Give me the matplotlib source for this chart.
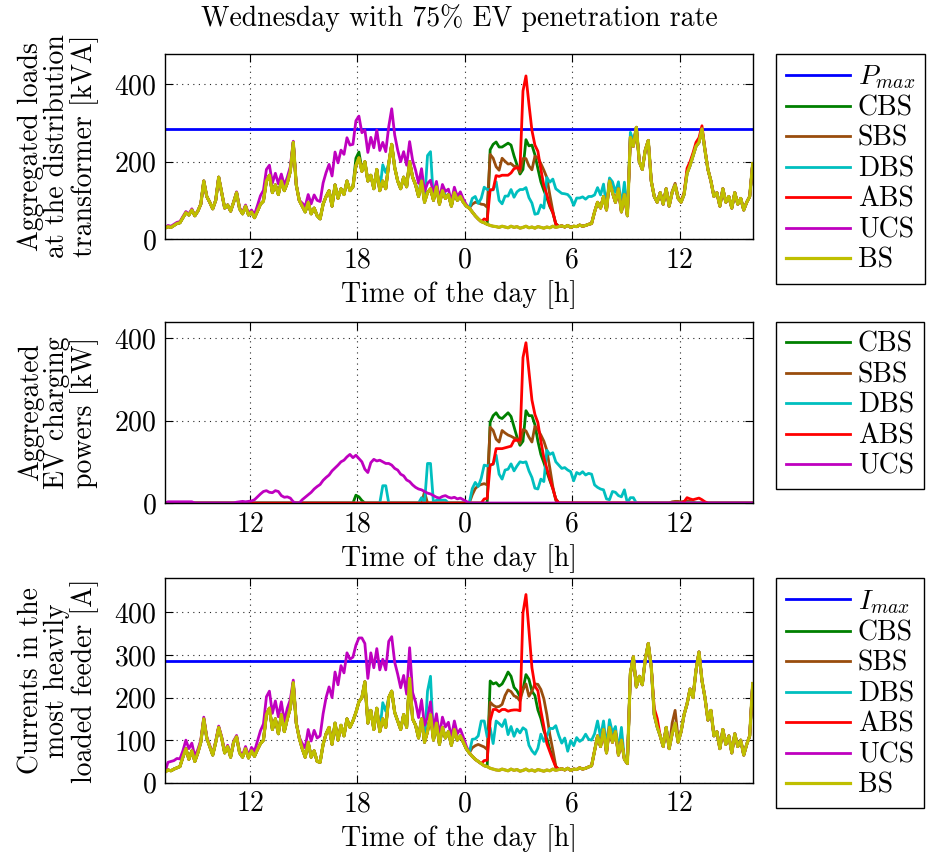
import numpy as np
import matplotlib
matplotlib.use("Agg")
import matplotlib.pyplot as plt

plt.rcParams['font.family'] = 'serif'
plt.rcParams['font.serif'] = ['cmr10']
plt.rcParams['mathtext.fontset'] = 'cm'
plt.rcParams['axes.unicode_minus'] = False
plt.rcParams['axes.formatter.use_mathtext'] = True

# time grid: 10 min steps starting 7:15 on day 1
t0 = 7.25
step = 1 / 6

# base load at the transformer [kVA], one row per hour
bs_load = [
    28, 32, 30, 35, 40, 42,
    55, 68, 62, 75, 60, 72,
    90, 150, 110, 95, 78, 100,
    160, 120, 80, 88, 72, 95,
    120, 78, 65, 85, 62, 70,
    55, 72, 90, 98, 150, 165,
    120, 140, 115, 150, 125, 145,
    175, 250, 140, 100, 85, 70,
    95, 65, 80, 60, 52, 90,
    110, 125, 85, 140, 105, 130,
    115, 150, 125, 135, 190, 210,
    175, 200, 150, 165, 130, 180,
    125, 150, 130, 195, 245, 185,
    150, 130, 160, 135, 200, 160,
    140, 110, 150, 95, 120, 130,
    100, 135, 90, 125, 105, 115,
    85, 120, 100, 110, 95, 85,
    80, 70, 60, 52, 45, 42,
    38, 35, 33, 32, 30, 33,
    31, 29, 33, 30, 32, 28,
    30, 33, 29, 31, 28, 32,
    30, 28, 31, 29, 33, 30,
    32, 34, 31, 35, 30, 33,
    32, 36, 33, 35, 38, 40,
    70, 95, 80, 110, 75, 150,
    120, 95, 130, 70, 115, 60,
    263, 240, 289, 200, 180, 230,
    255, 150, 110, 95, 120, 90,
    130, 85, 120, 140, 105, 95,
    115, 170, 190, 215, 240, 250,
    285, 230, 180, 150, 110, 120,
    85, 130, 95, 110, 80, 120,
    90, 105, 75, 95, 110, 195,
]

# base current in the most heavily loaded feeder [A]
bs_cur = [
    25, 30, 28, 32, 35, 38,
    60, 80, 55, 75, 50, 70,
    95, 150, 105, 85, 65, 95,
    130, 105, 70, 85, 60, 95,
    108, 70, 60, 80, 58, 75,
    62, 78, 92, 100, 160, 175,
    125, 150, 115, 160, 120, 150,
    175, 235, 140, 105, 80, 60,
    95, 60, 75, 50, 48, 90,
    115, 130, 90, 140, 100, 135,
    110, 150, 130, 145, 165, 190,
    200, 237, 140, 170, 125, 175,
    120, 150, 130, 200, 215, 165,
    145, 125, 160, 130, 245, 150,
    135, 105, 150, 95, 120, 160,
    100, 140, 90, 130, 105, 120,
    88, 125, 100, 110, 95, 80,
    70, 62, 55, 50, 45, 40,
    38, 34, 32, 30, 29, 32,
    30, 28, 32, 29, 31, 27,
    29, 32, 28, 30, 27, 31,
    29, 27, 30, 28, 32, 29,
    31, 33, 30, 34, 29, 32,
    31, 35, 32, 34, 37, 40,
    75, 110, 85, 125, 70, 130,
    95, 120, 65, 100, 55, 45,
    257, 296, 225, 250, 230, 290,
    327, 272, 160, 131, 110, 85,
    130, 80, 115, 140, 95, 120,
    160, 185, 220, 200, 264, 307,
    240, 200, 147, 170, 110, 120,
    80, 125, 90, 110, 70, 115,
    85, 100, 65, 90, 110, 233,
]

p_max = 284
i_max = 285

# aggregated EV charging powers [kW], as (start hour, values)
ucs_ev = [
    (7.42, [3, 3, 3, 3, 3, 3, 3, 3, 3]),
    (11.25, [2, 3, 4, 3, 4, 5,
             8, 15, 22, 28, 30, 26,
             25, 30, 28, 18, 14, 15,
             12, 3, 0, 0, 8, 14,
             20, 26, 34, 40, 45, 55,
             62, 68, 78, 85, 92, 100,
             104, 112, 118, 110, 116, 108,
             100, 82, 74, 98, 106, 102,
             104, 100, 96, 96, 92, 84,
             80, 70, 66, 56, 52, 44,
             38, 34, 32, 28, 24, 22,
             18, 14, 12, 16, 18, 14,
             12, 14, 10, 12, 8, 4]),
]
cbs_ev = [
    (17.92, [19, 15, 6]),
    (25.25, [0, 196, 212, 219, 208, 205, 212, 219, 210, 185, 160, 140,
             150, 224, 212, 212, 190, 150, 118, 98, 76, 55, 35, 10]),
]
sbs_ev = [
    (21.75, [27]),
    (24.25, [0, 20, 35, 42, 45, 47, 44, 184, 176, 155, 148, 176,
             170, 165, 162, 158, 156, 145, 178, 175, 160, 148, 186, 178,
             165, 150, 128, 85, 40, 6]),
    (35.58, [3, 4, 4, 3, 4, 5, 4, 3]),
]
dbs_ev = [
    (19.42, [42, 42]),
    (21.58, [13, 0, 96, 96, 0, 7, 7, 7, 7]),
    (24.25, [0, 35, 50, 40, 60, 92, 90, 92, 94, 116, 70, 58,
             80, 82, 95, 78, 90, 100, 98, 100, 78, 62, 36, 34,
             58, 52, 128, 118, 122, 100, 92, 84, 86, 80, 76, 54,
             74, 70, 76, 68, 72, 70, 44, 38, 34, 32, 10, 8,
             28, 26, 18, 15, 32, 0, 13, 13]),
]
abs_ev = [
    (25.08, [10, 11, 92, 95, 132, 132, 132, 134, 136, 138, 152, 152,
             154, 353, 389, 320, 250, 215, 195, 150, 110, 84, 58, 35, 10]),
    (36.25, [3, 13, 10, 8, 10, 12, 8, 3]),
]

# extra feeder current caused by the EV charging [A]
ucs_cur = [
    (7.25, [0, 18, 22, 20, 22, 18,
            15, 20, 25, 18, 12, 8,
            5, 4, 3, 3, 3, 3,
            3, 3, 3, 3, 3, 3,
            3, 4, 5, 5, 6, 8,
            12, 20, 30, 38, 42, 40,
            38, 42, 40, 30, 24, 25,
            20, 6, 0, 2, 12, 22,
            30, 38, 48, 55, 62, 72,
            85, 95, 110, 120, 130, 140,
            148, 155, 160, 150, 158, 150,
            140, 90, 105, 135, 145, 140,
            145, 140, 135, 132, 128, 118,
            110, 98, 92, 78, 72, 62,
            54, 48, 44, 40, 34, 30,
            26, 22, 20, 24, 26, 22,
            18, 20, 15, 16, 12, 6]),
]
cbs_cur = [
    (25.25, [0, 205, 200, 205, 198, 200, 215, 232, 218, 195, 185, 175,
             190, 222, 215, 185, 178, 140, 122, 95, 75, 50, 28, 8]),
]
sbs_cur = [
    (24.25, [0, 20, 32, 40, 42, 44, 40, 155, 150, 148, 150, 152,
             175, 190, 182, 175, 170, 165, 190, 200, 175, 185, 205, 200,
             190, 170, 130, 85, 45, 10]),
    (35.58, [25, 30, 10]),
]
dbs_cur = [
    (19.42, [38, 38]),
    (21.92, [95, 90]),
    (24.25, [0, 40, 48, 60, 100, 105, 70, 95, 60, 115, 110, 100,
             118, 85, 100, 80, 95, 90, 100, 92, 60, 45, 40, 50,
             85, 70, 80, 100, 95, 105, 80, 60, 75, 40, 70, 55,
             75, 62, 70, 80, 65, 60, 40, 35, 22, 20, 15, 18,
             22, 12, 10, 30]),
]
abs_cur = [
    (25.08, [12, 15, 112, 140, 142, 138, 140, 142, 140, 138, 142, 140,
             142, 370, 410, 330, 240, 200, 185, 140, 105, 62, 45, 22, 8]),
    (34.58, [15, 20]),
]

names = ['CBS', 'SBS', 'DBS', 'ABS', 'UCS']
colors = {
    'max': (0, 0, 1),
    'CBS': (0, 0.5, 0),
    'SBS': (0.6, 0.3, 0.05),
    'DBS': (0, 0.75, 0.75),
    'ABS': (1, 0, 0),
    'UCS': (0.75, 0, 0.75),
    'BS': (0.75, 0.75, 0),
}

t = t0 + np.arange(len(bs_load)) * step
bs_load = np.array(bs_load, dtype=float)
bs_cur = np.array(bs_cur, dtype=float)


def profile(parts):
    out = np.zeros(len(t))
    for start, vals in parts:
        i = int(round((start - t0) / step))
        out[i:i + len(vals)] = vals
    return out


ev = {'CBS': profile(cbs_ev), 'SBS': profile(sbs_ev), 'DBS': profile(dbs_ev),
      'ABS': profile(abs_ev), 'UCS': profile(ucs_ev)}
cur = {'CBS': profile(cbs_cur), 'SBS': profile(sbs_cur), 'DBS': profile(dbs_cur),
       'ABS': profile(abs_cur), 'UCS': profile(ucs_cur)}

fs = 20
lw = 2.0

fig = plt.figure(figsize=(9.28, 8.52), dpi=100)
ax1 = fig.add_axes([0.1778, 0.7195, 0.6336, 0.2177])
ax2 = fig.add_axes([0.1778, 0.4096, 0.6336, 0.2128])
ax3 = fig.add_axes([0.1778, 0.0813, 0.6336, 0.2399])

# panel 1: loads at the transformer
ax1.axhline(p_max, color=colors['max'], lw=2.0, label='$P_{max}$')
for n in names:
    ax1.plot(t, bs_load + ev[n], color=colors[n], lw=lw, label=n)
ax1.plot(t, bs_load, color=colors['BS'], lw=2.3, label='BS')

# panel 2: EV charging powers
for n in names:
    ax2.plot(t, ev[n], color=colors[n], lw=lw, label=n)

# panel 3: feeder currents
ax3.axhline(i_max, color=colors['max'], lw=2.0, label='$I_{max}$')
for n in names:
    ax3.plot(t, bs_cur + cur[n], color=colors[n], lw=lw, label=n)
ax3.plot(t, bs_cur, color=colors['BS'], lw=2.3, label='BS')

ylabels = ['Aggregated loads\nat the distribution\ntransformer [kVA]',
           'Aggregated\nEV charging\npowers [kW]',
           'Currents in the\nmost heavily\nloaded feeder [A]']
ylims = [480, 440, 480]
yticks = [[0, 200, 400], [0, 200, 400], [0, 100, 200, 300, 400]]

for ax, yl, top, yt in zip([ax1, ax2, ax3], ylabels, ylims, yticks):
    ax.set_xlim(t0, 40.1)
    ax.set_ylim(0, top)
    ax.set_xticks([12, 18, 24, 30, 36])
    ax.set_xticklabels(['12', '18', '0', '6', '12'])
    ax.set_yticks(yt)
    ax.grid(True, color='0.15', linestyle=(0, (1, 4)), linewidth=0.8)
    ax.tick_params(direction='in', length=6, width=0.8, top=True, right=True,
                   labelsize=fs, pad=6)
    ax.set_xlabel('Time of the day [h]', fontsize=fs, labelpad=5)
    ax.set_ylabel(yl, fontsize=fs, linespacing=1.0)
    ax.yaxis.set_label_coords(-0.112, 0.5)
    for sp in ax.spines.values():
        sp.set_linewidth(1.0)
    leg = ax.legend(loc='upper left', bbox_to_anchor=(1.039, 1.0), fontsize=fs,
                    fancybox=False, edgecolor='k', framealpha=1,
                    borderpad=0.35, labelspacing=0.15, handlelength=2.3,
                    handletextpad=0.3, borderaxespad=0)
    leg.get_frame().set_linewidth(1.0)

ax1.set_title('Wednesday with 75% EV penetration rate', fontsize=fs, pad=20)

fig.savefig('out.png', dpi=100)
